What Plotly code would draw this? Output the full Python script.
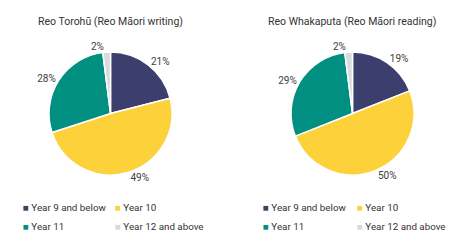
import plotly.graph_objects as go

categories = ["Year 9 and below", "Year 10", "Year 11", "Year 12 and above"]
writing = [21, 49, 28, 2]
reading = [19, 50, 29, 2]
titles = ["Reo Torohū (Reo Māori writing)", "Reo Whakaputa (Reo Māori reading)"]
colors = ["#3C3F6E", "#FDD13A", "#008F80", "#D9DADC"]

W, H = 464, 247
FONT = "Roboto"
fig = go.Figure()

pie_domains = [
    dict(x=[49/W, 172/W], y=[1-175/H, 1-52/H]),
    dict(x=[291/W, 414/W], y=[1-175/H, 1-52/H]),
]
for vals, dom in zip([writing, reading], pie_domains):
    fig.add_trace(go.Pie(
        labels=categories, values=vals, sort=False, direction="clockwise",
        rotation=0, domain=dom, textposition="outside",
        texttemplate="%{value}%", textfont=dict(size=10, color="#404040", family=FONT),
        marker=dict(colors=colors, line=dict(color="white", width=1.5)),
        showlegend=False, hoverinfo="label+percent",
    ))

# one legend per entry, laid out as 2x2 grid under each pie
legend_defs = {}
col_x = [[23, 115], [263, 357]]
row_y = [207, 226]
li = 1
for p in range(2):
    for ci in range(4):
        r, c = divmod(ci, 2)
        name = "legend" if li == 1 else f"legend{li}"
        fig.add_trace(go.Scatter(
            x=[None], y=[None], mode="markers",
            name=f"<span style='color:{colors[ci]}'>■</span> {categories[ci]}",
            marker=dict(size=1, color="rgba(0,0,0,0)", line=dict(width=0)),
            legend=name, showlegend=True,
        ))
        legend_defs[name] = dict(
            x=(col_x[p][c]-40)/W, y=1-row_y[r]/H, xanchor="left", yanchor="middle",
            orientation="h", font=dict(size=9.8, color="#333333", family=FONT),
            bgcolor="rgba(0,0,0,0)", itemwidth=30,
        )
        li += 1

annotations = []
for t, cx in zip(titles, [110.5/W, 352/W]):
    annotations.append(dict(text=t, x=cx, y=1-21/H, xref="paper", yref="paper",
                            showarrow=False, xanchor="center", yanchor="middle",
                            font=dict(size=10.5, color="#333333", family=FONT)))

fig.update_layout(
    width=W, height=H, margin=dict(l=0, r=0, t=0, b=0, autoexpand=False),
    paper_bgcolor="white", plot_bgcolor="white",
    font=dict(family=FONT, color="#404040"),
    xaxis=dict(visible=False), yaxis=dict(visible=False),
    annotations=annotations, **legend_defs,
)
fig.write_html("out.html")
